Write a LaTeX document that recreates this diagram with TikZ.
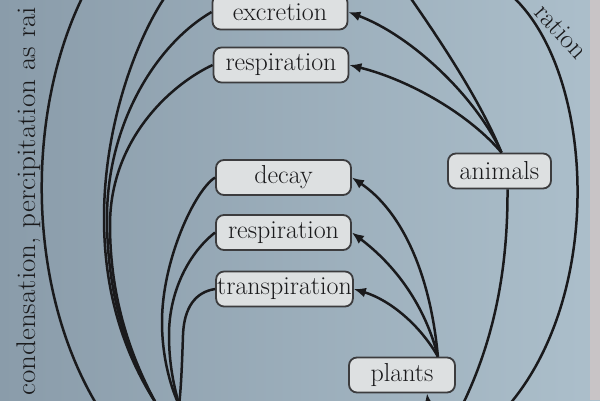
\documentclass[tikz,border=0pt]{standalone}
\usepackage{fontspec}
\usetikzlibrary{arrows.meta}
\definecolor{bgl}{RGB}{138,156,170}
\definecolor{bgr}{RGB}{172,191,203}
\definecolor{edgec}{RGB}{200,196,198}
\definecolor{boxf}{RGB}{221,224,225}
\definecolor{ink}{RGB}{26,26,28}
\tikzset{
  lbl/.style={font=\fontsize{26}{30}\selectfont, text=ink},
  box/.style={lbl, draw=ink!85, fill=boxf, rounded corners=8pt, line width=1.8pt,
              minimum height=35pt, inner xsep=6pt, inner ysep=2pt},
  wide/.style={box, minimum width=135pt, inner xsep=1pt},
  conn/.style={draw=ink, line width=2.5pt},
  arr/.style={conn, -{Latex[length=12pt,width=10pt]}},
  side/.style={font=\fontsize{27}{31}\selectfont, text=ink, inner sep=0pt}
}
\begin{document}
\begin{tikzpicture}[x=1pt,y=-1pt]
\useasboundingbox (0,0) rectangle (600,400);
\shade[left color=bgl, right color=bgr] (0,0) rectangle (600,400);
\fill[edgec] (590,0) rectangle (600,400);
\clip (0,0) rectangle (600,400);

% nodes
\node[wide] (exc) at (280,12) {excretion};
\node[wide] (res1) at (281,65) {respiration};
\node[wide] (dec) at (283.5,177.5) {decay};
\node[wide] (res2) at (283.5,232.5) {respiration};
\node[wide] (tra) at (284.5,289) {transpiration};
\node[box, minimum width=103pt] (ani) at (499.5,171) {animals};
\node[box, minimum width=106pt] (pla) at (402,375) {plants};

% free ends
\coordinate (tO) at (85,-8);
\coordinate (tA) at (170,-10);
\coordinate (tM) at (405,-10);
\coordinate (tR) at (505,-10);
\coordinate (bO) at (100,410);
\coordinate (bU) at (157,405);
\coordinate (bL) at (179,405);
\coordinate (bA) at (460,410);
\coordinate (bR) at (500,415);
\coordinate (bP) at (430,418);

% left arcs
\draw[conn] (tO) .. controls (25,110) and (25,290) .. (bO);
\draw[conn] (tA) .. controls (140,30) and (104,120) .. (104,218)
  .. controls (104,300) and (128,360) .. (bU);
\draw[conn] (exc.west) .. controls (155,45) and (107,125) .. (107,218)
  .. controls (107,300) and (130,360) .. (bU);
\draw[conn] (res1.west) .. controls (170,85) and (110,140) .. (110,225)
  .. controls (110,300) and (132,360) .. (bU);

\draw[conn] (dec.west) .. controls (195,190) and (162,260) .. (162,322)
  .. controls (162,360) and (172,390) .. (bL);
\draw[conn] (res2.west) .. controls (190,252) and (169,290) .. (169,335)
  .. controls (169,370) and (176,392) .. (bL);
\draw[conn] (tra.west) .. controls (195,292) and (184,308) .. (183,335)
  .. controls (182,365) and (181,390) .. (bL);

% animals
\draw[arr] ([xshift=2pt]ani.north) .. controls (475,95) and (410,35) .. (exc.east);
\draw[arr] ([xshift=2pt]ani.north) .. controls (470,115) and (410,80) .. (res1.east);
\draw[conn] ([xshift=2pt]ani.north) .. controls (480,100) and (440,40) .. (tM);
\draw[conn] ([xshift=8pt]ani.south) .. controls (508,280) and (490,350) .. (bA);

% far right arc
\draw[conn] (tR) .. controls (595,60) and (610,300) .. (bR);

% plants
\coordinate (pt) at ([xshift=-18pt]pla.north east);
\draw[arr] (pt) .. controls (430,270) and (400,210) .. (dec.east);
\draw[arr] (pt) .. controls (425,305) and (395,265) .. (res2.east);
\draw[arr] (pt) .. controls (420,325) and (390,300) .. (tra.east);
\draw[arr] (bP) -- ([xshift=25pt]pla.south);

% side texts
\node[side, rotate=90, xscale=1.08, anchor=base west] (lt) at (35,396) {condensation, percipitation as rai};
\node[side, rotate=-48, anchor=base west] (rt) at (533,13) {ration};
\end{tikzpicture}
\end{document}
